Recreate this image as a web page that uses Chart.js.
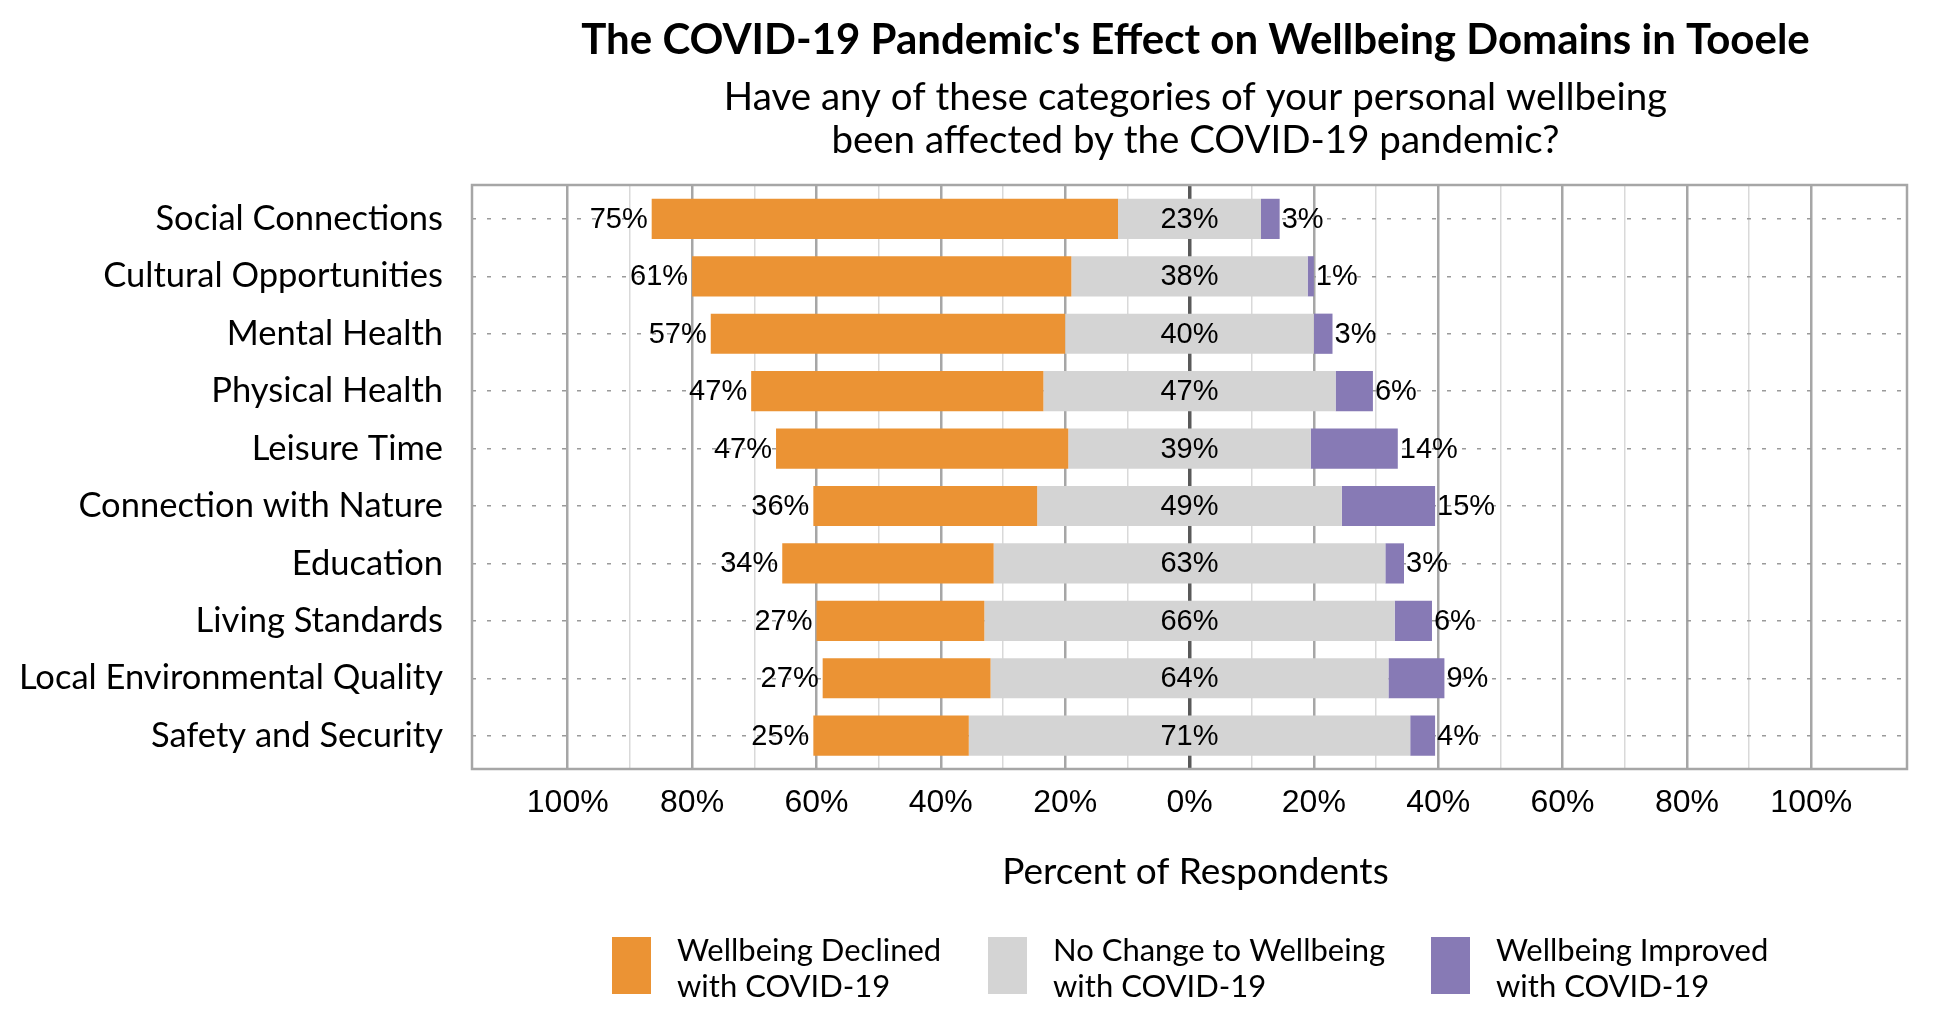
<!DOCTYPE html>
<html>
<head>
<meta charset="utf-8">
<title>COVID-19 Wellbeing Domains - Tooele</title>
<script src="https://cdn.jsdelivr.net/npm/chart.js@4.4.1/dist/chart.umd.min.js"></script>
<style>
  html, body { margin: 0; padding: 0; background: #fff; }
  #wrap { width: 1950px; height: 1020px; position: relative; }
</style>
</head>
<body>
<div id="wrap"><canvas id="chart"></canvas></div>
<script>
// categories, listed top to bottom
const categories = [
  "Social Connections", "Cultural Opportunities", "Mental Health", "Physical Health",
  "Leisure Time", "Connection with Nature", "Education", "Living Standards",
  "Local Environmental Quality", "Safety and Security"
];

// percent of respondents for each answer
const declined = [75, 61, 57, 47, 47, 36, 34, 27, 27, 25];
const noChange = [23, 38, 40, 47, 39, 49, 63, 66, 64, 71];
const improved = [3, 1, 3, 6, 14, 15, 3, 6, 9, 4];

const seriesLabels = [
  "Wellbeing Declined with COVID-19",
  "No Change to Wellbeing with COVID-19",
  "Wellbeing Improved with COVID-19"
];

// labelled ticks on the percent axis
const tickValues = [-100, -80, -60, -40, -20, 0, 20, 40, 60, 80, 100];

const titleText = "The COVID-19 Pandemic's Effect on Wellbeing Domains in Tooele";
const subtitleLines = [
  "Have any of these categories of your personal wellbeing",
  "been affected by the COVID-19 pandemic?"
];
const xAxisTitle = "Percent of Respondents";

const colors = ["#EB9334", "#D4D4D4", "#877AB5"];

// diverging layout: "no change" is centred on zero
const declinedBars = categories.map((c, i) => ({ y: i, x: [-noChange[i] / 2 - declined[i], -noChange[i] / 2] }));
const noChangeBars = categories.map((c, i) => ({ y: i, x: [-noChange[i] / 2, noChange[i] / 2] }));
const improvedBars = categories.map((c, i) => ({ y: i, x: [noChange[i] / 2, noChange[i] / 2 + improved[i]] }));

function gridColor(v) {
  if (v === 0) return "#595959";
  if (Math.abs(v) > 100) return "rgba(0,0,0,0)";
  return v % 20 === 0 ? "#A6A6A6" : "#D9D9D9";
}
function gridWidth(v) {
  if (v === 0) return 3.5;
  return v % 20 === 0 ? 2.5 : 1.5;
}

// value labels next to / inside the bars
const valueLabels = {
  id: "valueLabels",
  afterDatasetsDraw(chart) {
    const ctx = chart.ctx;
    ctx.save();
    ctx.font = '29px "Liberation Sans"';
    ctx.fillStyle = "#000";
    ctx.textBaseline = "middle";
    chart.data.datasets.forEach((ds, di) => {
      const meta = chart.getDatasetMeta(di);
      meta.data.forEach((bar, i) => {
        const text = ds.values[i] + "%";
        const left = Math.min(bar.x, bar.base);
        const right = Math.max(bar.x, bar.base);
        if (di === 0) {
          ctx.textAlign = "right";
          ctx.fillText(text, left - 4, bar.y + 1);
        } else if (di === 1) {
          ctx.textAlign = "center";
          ctx.fillText(text, (left + right) / 2, bar.y + 1);
        } else {
          ctx.textAlign = "left";
          ctx.fillText(text, right + 2, bar.y + 1);
        }
      });
    });
    ctx.restore();
  }
};

// frame, titles, axis title and the two-line legend
const decorations = {
  id: "decorations",
  afterDraw(chart) {
    const { ctx, chartArea } = chart;
    const cx = (chartArea.left + chartArea.right) / 2 + 6;
    ctx.save();
    ctx.strokeStyle = "#A6A6A6";
    ctx.lineWidth = 2.5;
    ctx.strokeRect(chartArea.left, chartArea.top, chartArea.right - chartArea.left, chartArea.bottom - chartArea.top);

    ctx.fillStyle = "#000";
    ctx.textAlign = "center";
    ctx.textBaseline = "middle";
    ctx.font = "bold 42px Lato";
    ctx.fillText(titleText, cx, 40);
    ctx.font = "38.5px Lato";
    subtitleLines.forEach((t, k) => ctx.fillText(t, cx, 98 + k * 43));
    ctx.font = "37px Lato";
    ctx.fillText(xAxisTitle, cx, 872);

    const swatchX = [612, 988, 1431];
    ctx.font = "31px Lato";
    ctx.textAlign = "left";
    chart.data.datasets.forEach((ds, di) => {
      ctx.fillStyle = ds.backgroundColor;
      ctx.fillRect(swatchX[di], 937, 39, 57);
      ctx.fillStyle = "#000";
      const lines = ds.label.replace(" with ", "\nwith ").split("\n");
      lines.forEach((t, k) => ctx.fillText(t, swatchX[di] + 65, 951 + k * 36));
    });
    ctx.restore();
  }
};

new Chart(document.getElementById("chart"), {
  type: "bar",
  data: {
    datasets: [
      { label: seriesLabels[0], data: declinedBars, values: declined, backgroundColor: colors[0] },
      { label: seriesLabels[1], data: noChangeBars, values: noChange, backgroundColor: colors[1] },
      { label: seriesLabels[2], data: improvedBars, values: improved, backgroundColor: colors[2] }
    ]
  },
  options: {
    indexAxis: "y",
    responsive: true,
    maintainAspectRatio: false,
    animation: false,
    layout: { padding: { top: 185, right: 43, bottom: 0, left: 0 } },
    datasets: { bar: { grouped: false, barPercentage: 0.7, categoryPercentage: 1 } },
    plugins: {
      legend: { display: false },
      tooltip: { enabled: false },
      title: { display: false }
    },
    scales: {
      x: {
        type: "linear",
        min: -115.4,
        max: 115.4,
        afterFit: s => { s.height = 251; },
        border: { display: false },
        grid: {
          drawTicks: false,
          color: c => gridColor(c.tick.value),
          lineWidth: c => gridWidth(c.tick.value)
        },
        ticks: {
          stepSize: 10,
          includeBounds: false,
          autoSkip: false,
          maxRotation: 0,
          padding: 15,
          color: "#000",
          font: { family: "Liberation Sans", size: 32 },
          callback: v => tickValues.includes(v) ? Math.abs(v) + "%" : ""
        }
      },
      y: {
        type: "linear",
        reverse: true,
        offset: false,
        min: -0.59,
        max: 9.58,
        afterFit: s => { s.width = 472; },
        border: { display: false, dash: [4, 11] },
        grid: { offset: false, drawTicks: false, color: "#9A9A9A", lineWidth: 1.5 },
        ticks: {
          stepSize: 1,
          includeBounds: false,
          autoSkip: false,
          padding: 29,
          color: "#000",
          font: { family: "Lato", size: 34.5 },
          callback: v => categories[v] !== undefined ? categories[v] : ""
        }
      }
    }
  },
  plugins: [valueLabels, decorations]
});
</script>
</body>
</html>
